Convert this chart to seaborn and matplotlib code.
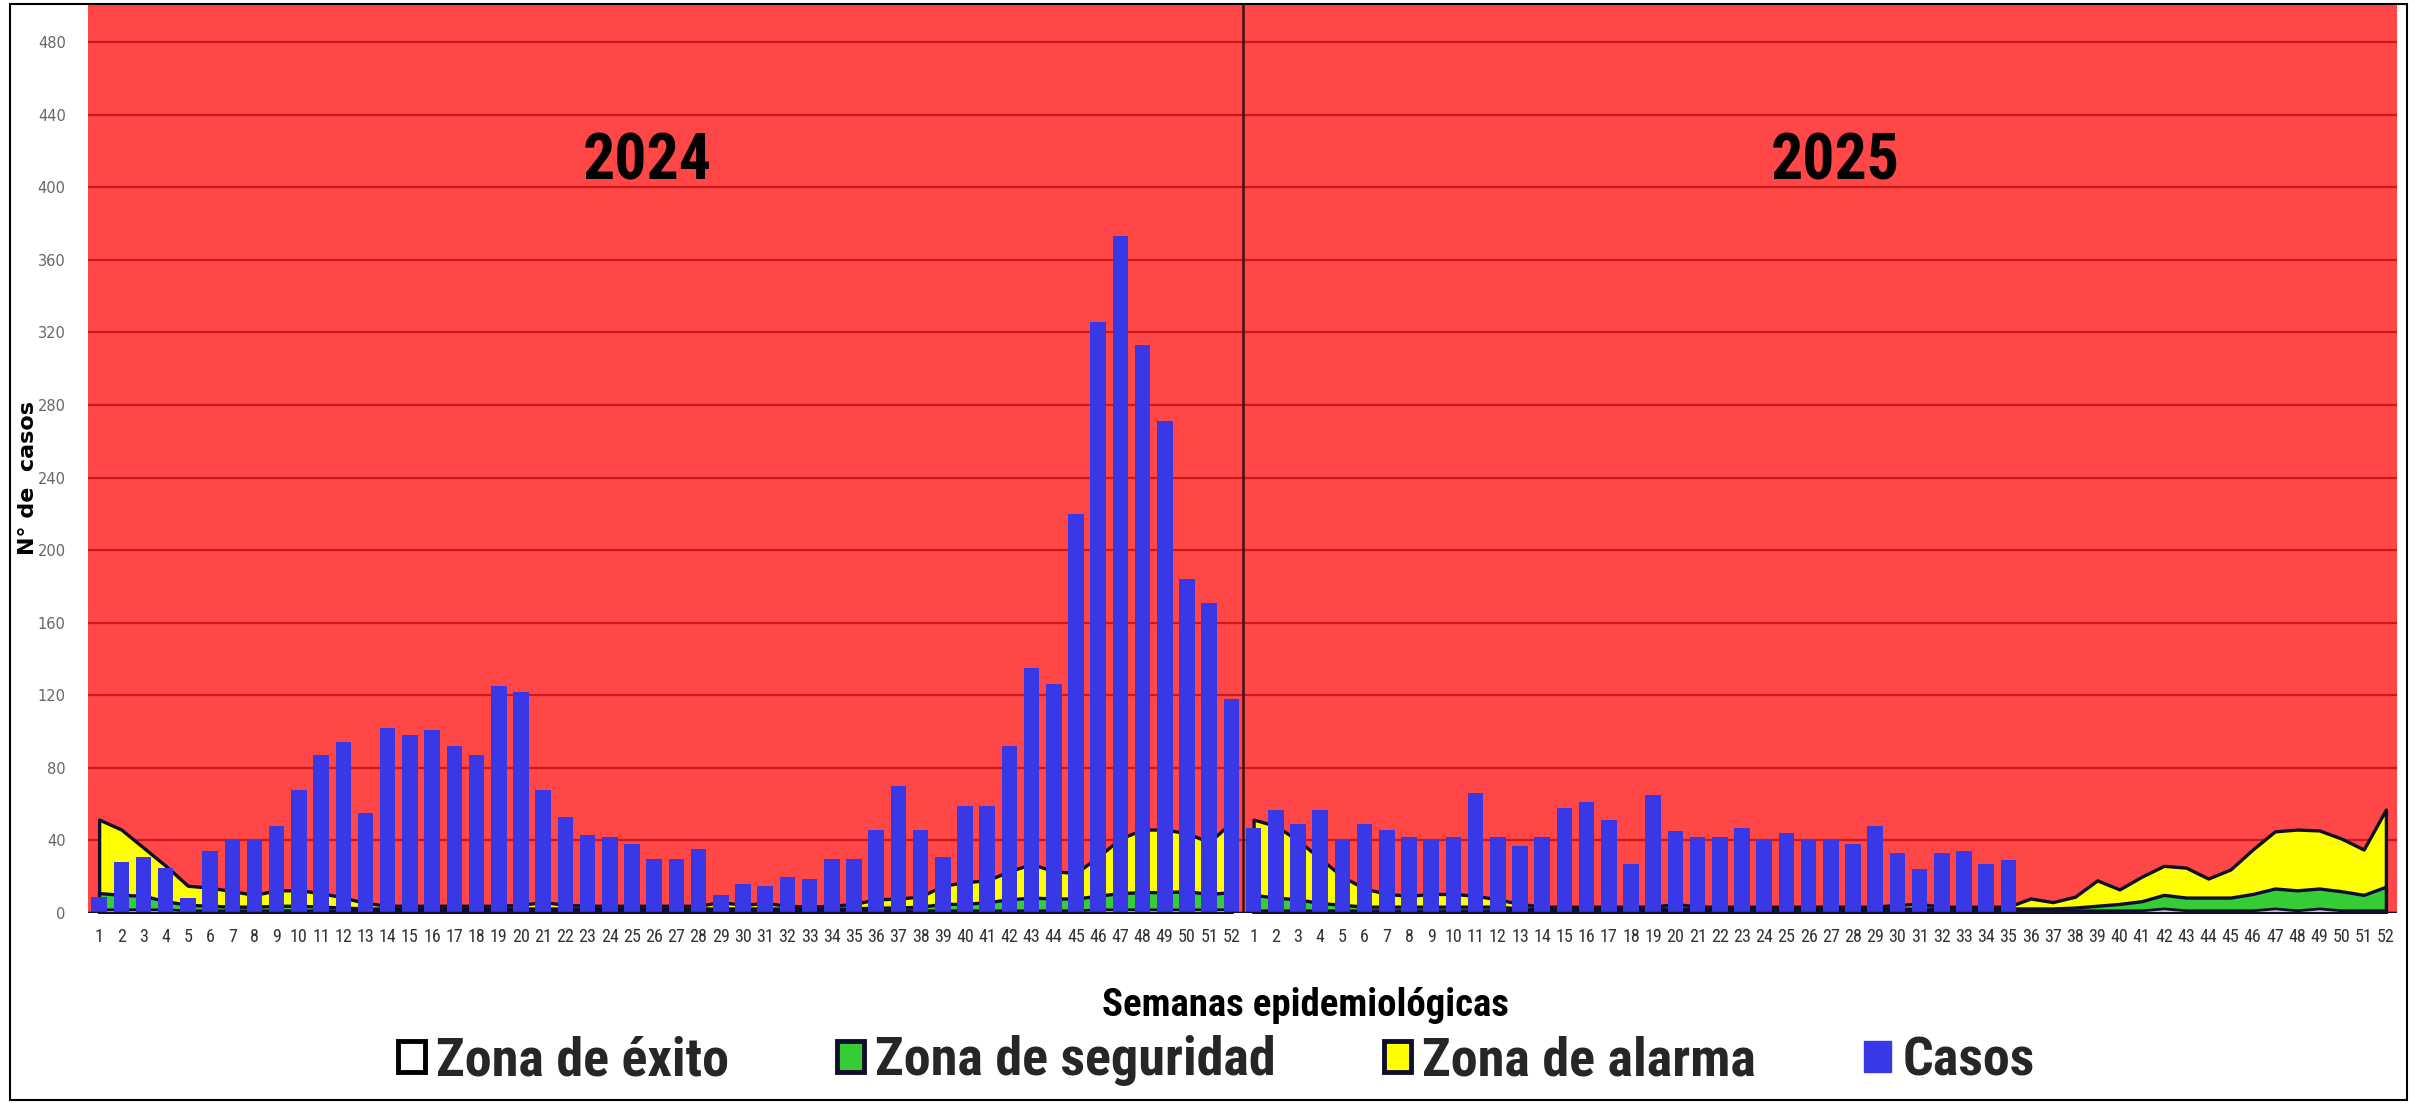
import numpy as np
import pandas as pd
import matplotlib
matplotlib.use('Agg')
import matplotlib.pyplot as plt
from matplotlib import font_manager
from matplotlib.patches import Patch, Rectangle
import seaborn as sns

# %%
semanas = list(range(1, 53))
anios = ['2024', '2025']

casos_2024 = [9, 28, 31, 25, 8, 34, 40, 40, 48, 68, 87, 94, 55, 102, 98, 101, 92, 87, 125, 122,
              68, 53, 43, 42, 38, 30, 30, 35, 10, 16, 15, 20, 19, 30, 30, 46, 70, 46, 31, 59,
              59, 92, 135, 126, 220, 326, 373, 313, 271, 184, 171, 118]
casos_2025 = [47, 57, 49, 57, 40, 49, 46, 42, 40, 42, 66, 42, 37, 42, 58, 61, 51, 27, 65, 45,
              42, 42, 47, 41, 44, 40, 40, 38, 48, 33, 24, 33, 34, 27, 29]

alarma_2024 = [51.5, 46, 36, 26, 15, 14, 12, 10, 12.5, 12.5, 11, 8.5, 5.5, 4, 4, 4, 4, 4, 4, 4.5,
               6, 4.5, 4, 4, 4, 4, 4, 4, 6, 4.5, 5.5, 4, 3.5, 4, 5, 7.5, 8, 9, 15, 17,
               18, 23, 27, 23, 22, 31, 41, 46, 46, 44, 39, 50]
seguridad_2024 = [11, 10, 9.5, 6.5, 4.5, 4, 3.5, 3.5, 4, 4, 3.5, 3, 2.5, 2.5, 2.5, 2.5, 2.5, 2.5, 2.5, 2.5,
                  2.5, 2.5, 2.5, 2.5, 2.5, 2.5, 2.5, 2.5, 2.5, 2.5, 2.5, 2.5, 2.5, 2.5, 2.5, 3, 3, 3.5, 5, 5,
                  6, 7.5, 8.5, 8, 8, 9.5, 11, 11.5, 11.5, 12, 10.5, 11.5]
exito_2024 = [2, 2, 2, 2, 1.5, 1.5, 1.5, 1.5, 1.5, 1.5, 1.5, 1.5, 1.5, 1.5, 1.5, 1.5, 1.5, 1.5, 1.5, 1.5,
              1.5, 1.5, 1.5, 1.5, 1.5, 1.5, 1.5, 1.5, 1.5, 1.5, 1.5, 1.5, 1.5, 1.5, 1.5, 1.5, 1.5, 1.5, 1.5, 1.5,
              1.5, 1.5, 1.5, 1.5, 1.5, 2, 2, 2, 2, 2, 2, 2]

alarma_2025 = [51.5, 48, 40, 30, 20, 13.5, 10.5, 9.5, 10.5, 10.5, 9.5, 7.5, 5, 3.5, 3.5, 3.5, 3.5, 3.5, 3.5, 5,
               3.5, 3.5, 3.5, 3.5, 3.5, 3.5, 3.5, 3.5, 3.5, 4.5, 5, 3.5, 3.5, 3.5, 3.5, 8, 6, 9, 18, 13,
               20, 26, 25, 19, 24, 35, 45, 46, 45.5, 41, 35, 57]
seguridad_2025 = [10, 8.5, 7.5, 5.5, 4.5, 3.5, 3.5, 3.5, 3.5, 3.5, 3.5, 3.5, 2.5, 2.5, 2.5, 2.5, 2.5, 2.5, 2.5, 2.5,
                  2.5, 2.5, 2.5, 2.5, 2.5, 2.5, 2.5, 2.5, 2.5, 2.5, 2.5, 2.5, 2.5, 2.5, 2.5, 2.5, 2.5, 3, 4, 5,
                  6.5, 10, 8.5, 8.5, 8.5, 10.5, 13.5, 12.5, 13.5, 12, 10, 14.5]
exito_2025 = [1.5] * 41 + [2.5, 1.5, 1.5, 1.5, 1.5, 2.5, 1.5, 2.5, 1.5, 1.5, 1.5]

# %%
rojo = '#FF4747'
rejilla = '#C81C1C'
amarillo = '#FFFF00'
verde = '#35CC35'
azul = '#3838E6'
borde = '#0E0E2E'

# buscar una fuente estrecha instalada
nombres = {f.name for f in font_manager.fontManager.ttflist}
estrecha = [n for n in ['Liberation Sans Narrow', 'Roboto Condensed', 'Open Sans Condensed',
                        'DejaVu Sans Condensed'] if n in nombres] + ['DejaVu Sans']

sns.set_theme(style='white')
plt.rcParams['font.family'] = ['DejaVu Sans']

W, H = 2418, 1103
fig = plt.figure(figsize=(W / 100, H / 100), dpi=100)
ax = fig.add_axes([88 / W, 1 - 913 / H, (2397 - 88) / W, (913 - 4) / H])
ax.set_facecolor(rojo)

# zonas del canal endemico
tramos = [
    (np.arange(52), exito_2024, seguridad_2024, alarma_2024),
    (np.arange(52, 104), exito_2025, seguridad_2025, alarma_2025),
]
for x, ex, se, al in tramos:
    ax.fill_between(x, 0, al, facecolor=amarillo, edgecolor=borde, lw=2.4, zorder=2)
    ax.fill_between(x, 0, se, facecolor=verde, edgecolor=borde, lw=2.4, zorder=3)
    ax.fill_between(x, 0, ex, facecolor='white', edgecolor=borde, lw=2.0, zorder=3.5)

# casos
casos = casos_2024 + casos_2025
df = pd.DataFrame({'pos': np.arange(len(casos)), 'casos': casos})
sns.barplot(data=df, x='pos', y='casos', native_scale=True, width=0.7,
            color=azul, saturation=1, linewidth=0, ax=ax, zorder=5)

ax.axhline(0, color=borde, lw=2.5, zorder=6)
ax.axvline(51.5, color='#3A1212', lw=1.8, zorder=6)

ax.set_xlim(-0.5, 103.5)
ax.set_ylim(0, 501)
ax.set_yticks(range(0, 481, 40))
ax.yaxis.grid(True, color=rejilla, lw=1.6)
ax.set_axisbelow(True)
ax.set_xticks(np.arange(104))
ax.set_xticklabels([str(s) for s in semanas] * 2, family=estrecha, fontstretch='condensed',
                   fontsize=13, color='#333333')
ax.tick_params(axis='y', length=0, pad=16, labelsize=10.5, labelcolor='#666666')
ax.tick_params(axis='x', length=0, pad=11)
ax.set_xlabel('')
ax.set_ylabel('')
for s in ax.spines.values():
    s.set_visible(False)

for xpos, anio in zip([24.7, 78.2], anios):
    ax.text(xpos, 414, anio, ha='center', va='center', fontsize=46, fontweight='bold',
            family=estrecha, fontstretch='condensed', color='black', zorder=7)

fig.text(28 / W, 1 - 478 / H, 'N° de  casos', rotation=90, ha='center', va='center',
         fontsize=16, fontweight='bold', color='black')
fig.text(1305 / W, 1 - 1005 / H, 'Semanas epidemiológicas', ha='center', va='center',
         fontsize=28, fontweight='bold', family=estrecha, fontstretch='condensed', color='black')

handles = [
    Patch(facecolor='white', edgecolor='black', lw=3.5),
    Patch(facecolor=verde, edgecolor=borde, lw=3.5),
    Patch(facecolor=amarillo, edgecolor=borde, lw=3.5),
    Patch(facecolor=azul, edgecolor=azul, lw=1),
]
etiquetas = ['Zona de éxito', 'Zona de seguridad', 'Zona de alarma', 'Casos']
fig.legend(handles, etiquetas, loc='center', bbox_to_anchor=(0.503, 1 - 1061 / H), ncol=4,
           frameon=False, prop={'family': estrecha, 'weight': 'bold', 'size': 39, 'stretch': 'condensed'},
           handlelength=0.5, handleheight=0.5, handletextpad=0.2, columnspacing=2.0)

fig.patches.append(Rectangle((10 / W, 3 / H), (2407 - 10) / W, (1099 - 3) / H,
                             transform=fig.transFigure, fill=False, ec='black', lw=1.5))

fig.savefig('out.png', dpi=100)
